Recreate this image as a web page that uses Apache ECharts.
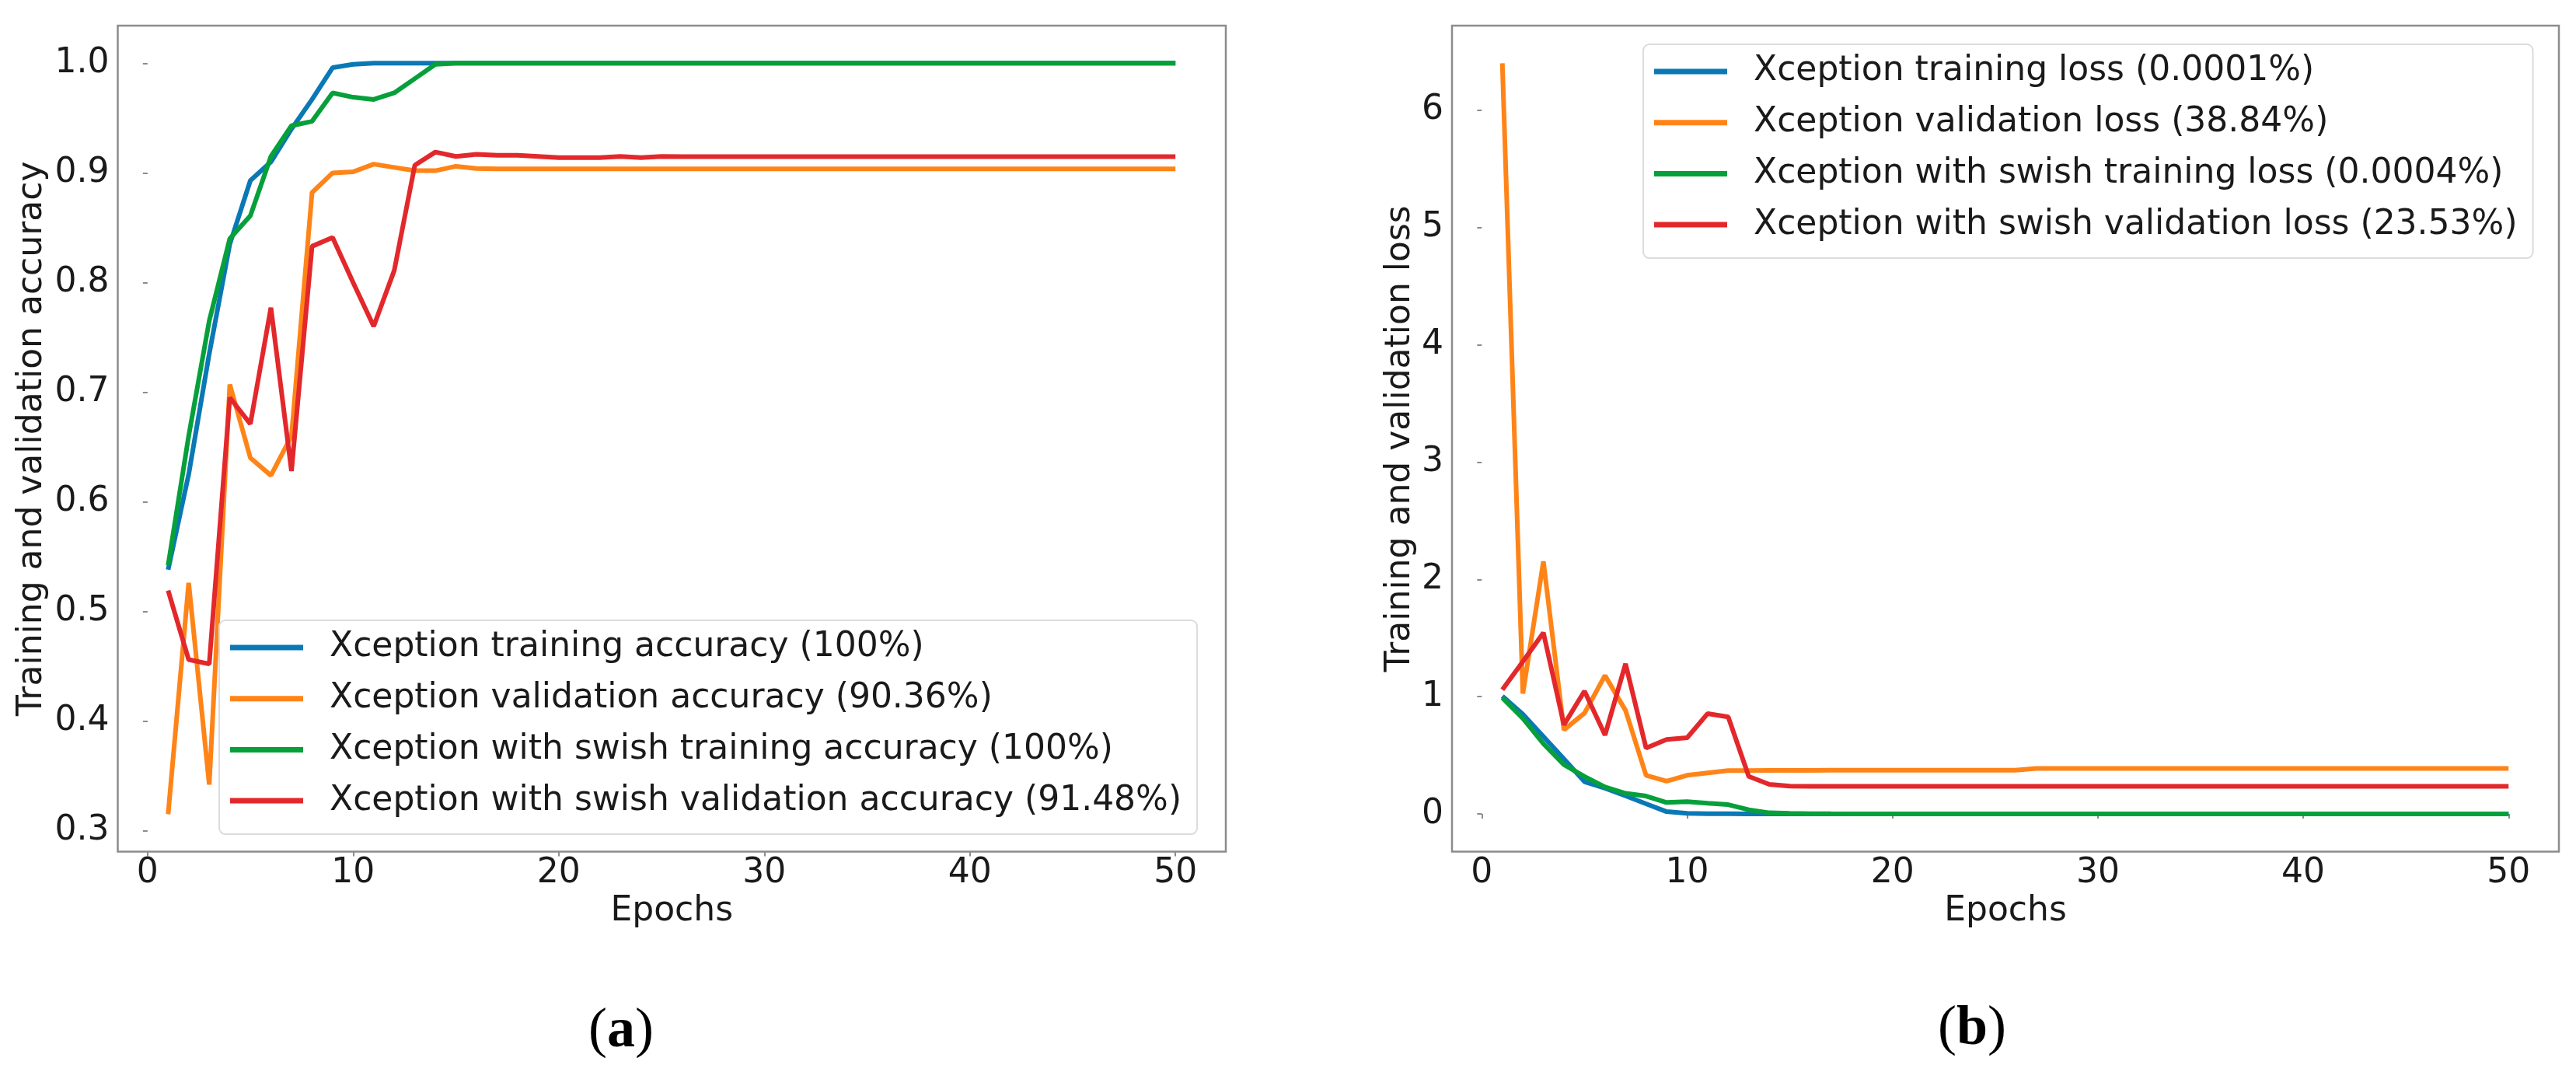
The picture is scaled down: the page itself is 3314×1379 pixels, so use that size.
<!DOCTYPE html>
<html>
<head>
<meta charset="utf-8">
<title>Xception accuracy and loss</title>
<script src="https://cdn.jsdelivr.net/npm/echarts@6/dist/echarts.min.js"></script>
<style>
  html, body { margin: 0; padding: 0; background: #fff; }
  #chart { width: 3314px; height: 1379px; }
</style>
</head>
<body>
<div id="chart"></div>
<script>
const FONT = 'DejaVu Sans';

const epochs = [1, 2, 3, 4, 5, 6, 7, 8, 9, 10, 11, 12, 13, 14, 15, 16, 17, 18, 19, 20,
  21, 22, 23, 24, 25, 26, 27, 28, 29, 30, 31, 32, 33, 34, 35, 36, 37, 38, 39, 40,
  41, 42, 43, 44, 45, 46, 47, 48, 49, 50];

// (a) accuracy
const trainAccX = [0.538, 0.625, 0.735, 0.835, 0.893, 0.910, 0.940, 0.967, 0.996, 0.999,
  1.0, 1.0, 1.0, 1.0, 1.0, 1.0, 1.0, 1.0, 1.0, 1.0, 1.0, 1.0, 1.0, 1.0, 1.0,
  1.0, 1.0, 1.0, 1.0, 1.0, 1.0, 1.0, 1.0, 1.0, 1.0, 1.0, 1.0, 1.0, 1.0, 1.0,
  1.0, 1.0, 1.0, 1.0, 1.0, 1.0, 1.0, 1.0, 1.0, 1.0];
const valAccX = [0.315, 0.526, 0.342, 0.707, 0.640, 0.624, 0.660, 0.882, 0.900, 0.901,
  0.908, 0.905, 0.902, 0.902, 0.906, 0.904, 0.9036, 0.9036, 0.9036, 0.9036,
  0.9036, 0.9036, 0.9036, 0.9036, 0.9036, 0.9036, 0.9036, 0.9036, 0.9036, 0.9036,
  0.9036, 0.9036, 0.9036, 0.9036, 0.9036, 0.9036, 0.9036, 0.9036, 0.9036, 0.9036,
  0.9036, 0.9036, 0.9036, 0.9036, 0.9036, 0.9036, 0.9036, 0.9036, 0.9036, 0.9036];
const trainAccS = [0.542, 0.660, 0.765, 0.840, 0.861, 0.915, 0.943, 0.947, 0.973, 0.969,
  0.967, 0.973, 0.986, 0.999, 1.0, 1.0, 1.0, 1.0, 1.0, 1.0, 1.0, 1.0, 1.0, 1.0, 1.0,
  1.0, 1.0, 1.0, 1.0, 1.0, 1.0, 1.0, 1.0, 1.0, 1.0, 1.0, 1.0, 1.0, 1.0, 1.0,
  1.0, 1.0, 1.0, 1.0, 1.0, 1.0, 1.0, 1.0, 1.0, 1.0];
const valAccS = [0.519, 0.456, 0.452, 0.695, 0.671, 0.777, 0.628, 0.833, 0.841, 0.800,
  0.760, 0.811, 0.907, 0.919, 0.915, 0.917, 0.916, 0.916, 0.915, 0.914,
  0.914, 0.914, 0.915, 0.914, 0.915, 0.9148, 0.9148, 0.9148, 0.9148, 0.9148,
  0.9148, 0.9148, 0.9148, 0.9148, 0.9148, 0.9148, 0.9148, 0.9148, 0.9148, 0.9148,
  0.9148, 0.9148, 0.9148, 0.9148, 0.9148, 0.9148, 0.9148, 0.9148, 0.9148, 0.9148];

// (b) loss
const trainLossX = [1.005, 0.850, 0.660, 0.470, 0.275, 0.220, 0.155, 0.087, 0.020, 0.006,
  0.003, 0.002, 0.001, 0.001, 0.0008, 0.0006, 0.0005, 0.0004, 0.0004, 0.0003,
  0.0003, 0.0003, 0.0002, 0.0002, 0.0002, 0.0002, 0.0002, 0.0002, 0.0001, 0.0001,
  0.0001, 0.0001, 0.0001, 0.0001, 0.0001, 0.0001, 0.0001, 0.0001, 0.0001, 0.0001,
  0.0001, 0.0001, 0.0001, 0.0001, 0.0001, 0.0001, 0.0001, 0.0001, 0.0001, 0.0001];
const valLossX = [6.40, 1.026, 2.153, 0.717, 0.860, 1.180, 0.883, 0.330, 0.280, 0.330,
  0.350, 0.370, 0.370, 0.372, 0.372, 0.372, 0.373, 0.373, 0.373, 0.373,
  0.373, 0.373, 0.373, 0.373, 0.373, 0.373, 0.389, 0.389, 0.389, 0.389,
  0.389, 0.389, 0.389, 0.389, 0.389, 0.389, 0.389, 0.389, 0.389, 0.389,
  0.389, 0.389, 0.389, 0.389, 0.389, 0.389, 0.389, 0.389, 0.389, 0.3884];
const trainLossS = [0.990, 0.815, 0.600, 0.420, 0.320, 0.230, 0.176, 0.153, 0.098, 0.105,
  0.092, 0.080, 0.036, 0.010, 0.005, 0.003, 0.002, 0.0015, 0.001, 0.001,
  0.0009, 0.0008, 0.0008, 0.0007, 0.0007, 0.0006, 0.0006, 0.0006, 0.0005, 0.0005,
  0.0005, 0.0005, 0.0005, 0.0005, 0.0004, 0.0004, 0.0004, 0.0004, 0.0004, 0.0004,
  0.0004, 0.0004, 0.0004, 0.0004, 0.0004, 0.0004, 0.0004, 0.0004, 0.0004, 0.0004];
const valLossS = [1.060, 1.300, 1.545, 0.760, 1.048, 0.673, 1.280, 0.562, 0.635, 0.650,
  0.856, 0.827, 0.320, 0.253, 0.237, 0.2353, 0.2353, 0.2353, 0.2353, 0.2353,
  0.2353, 0.2353, 0.2353, 0.2353, 0.2353, 0.2353, 0.2353, 0.2353, 0.2353, 0.2353,
  0.2353, 0.2353, 0.2353, 0.2353, 0.2353, 0.2353, 0.2353, 0.2353, 0.2353, 0.2353,
  0.2353, 0.2353, 0.2353, 0.2353, 0.2353, 0.2353, 0.2353, 0.2353, 0.2353, 0.2353];

const accNames = [
  'Xception training accuracy (100%)',
  'Xception validation accuracy (90.36%)',
  'Xception with swish training accuracy (100%)',
  'Xception with swish validation accuracy (91.48%)'
];
const lossNames = [
  'Xception training loss (0.0001%)',
  'Xception validation loss (38.84%)',
  'Xception with swish training loss (0.0004%)',
  'Xception with swish validation loss (23.53%)'
];
const lineColors = ['#0a78b5', '#ff8418', '#06a03b', '#e3282c'];

const xTicks = [0, 10, 20, 30, 40, 50];
const accTicks = [0.3, 0.4, 0.5, 0.6, 0.7, 0.8, 0.9, 1.0];
const lossTicks = [0, 1, 2, 3, 4, 5, 6];

const frameColor = '#8c8c8c';
const textColor = '#1a1a1a';

function pairs(values) {
  return epochs.map((e, i) => [e, values[i]]);
}

function xAxis(gridIndex) {
  return {
    type: 'value', gridIndex: gridIndex, min: -1.45, max: 52.45,
    axisLine: { show: false },
    splitLine: { show: false },
    axisTick: { show: true, inside: false, length: 6, customValues: xTicks,
      lineStyle: { color: frameColor, width: 2 } },
    axisLabel: { customValues: xTicks, margin: 6, fontFamily: FONT, fontSize: 44, color: textColor },
    name: 'Epochs', nameLocation: 'middle', nameGap: 54,
    nameTextStyle: { fontFamily: FONT, fontSize: 44, color: textColor }
  };
}

function yAxis(gridIndex, min, max, ticks, digits, name, nameGap) {
  return {
    type: 'value', gridIndex: gridIndex, min: min, max: max,
    axisLine: { show: false },
    splitLine: { show: false },
    axisTick: { show: true, inside: false, length: 6, customValues: ticks,
      lineStyle: { color: frameColor, width: 2 } },
    axisLabel: { customValues: ticks, margin: 11, fontFamily: FONT, fontSize: 44, color: textColor,
      formatter: v => v.toFixed(digits) },
    name: name, nameLocation: 'middle', nameGap: nameGap,
    nameTextStyle: { fontFamily: FONT, fontSize: 44, color: textColor }
  };
}

function lineSeries(name, values, color, axisIndex) {
  return {
    name: name, type: 'line', xAxisIndex: axisIndex, yAxisIndex: axisIndex,
    data: pairs(values), showSymbol: false, symbol: 'none',
    itemStyle: { color: color },
    lineStyle: { color: color, width: 6 },
    emphasis: { disabled: true }
  };
}

function legend(names, left, top) {
  return {
    data: names, orient: 'vertical', left: left, top: top,
    icon: 'rect', itemWidth: 94, itemHeight: 7, itemGap: 21.7,
    padding: [13, 20, 21, 14],
    backgroundColor: 'rgba(255,255,255,0.8)',
    borderColor: '#dcdcdc', borderWidth: 2, borderRadius: 8,
    selectedMode: false,
    textStyle: { fontFamily: FONT, fontSize: 44, lineHeight: 44, color: textColor,
      padding: [0, 0, 0, 29] }
  };
}

function panelLabel(letter, x, y) {
  return {
    type: 'text', x: x, y: y,
    style: {
      text: '{p|(}{b|' + letter + '}{p|)}',
      align: 'center', verticalAlign: 'middle',
      rich: {
        p: { fontFamily: 'Liberation Serif', fontSize: 72, fill: '#000' },
        b: { fontFamily: 'Liberation Serif', fontSize: 72, fontWeight: 'bold', fill: '#000' }
      }
    }
  };
}

const chart = echarts.init(document.getElementById('chart'));
chart.setOption({
  animation: false,
  backgroundColor: '#ffffff',
  grid: [
    { left: 151.5, top: 33, width: 1425.5, height: 1062.6, show: true,
      borderColor: frameColor, borderWidth: 2.5, backgroundColor: 'transparent' },
    { left: 1868, top: 33, width: 1424, height: 1062.4, show: true,
      borderColor: frameColor, borderWidth: 2.5, backgroundColor: 'transparent' }
  ],
  xAxis: [xAxis(0), xAxis(1)],
  yAxis: [
    yAxis(0, 0.2808, 1.0343, accTicks, 1, 'Training and validation accuracy', 88),
    yAxis(1, -0.32, 6.72, lossTicks, 0, 'Training and validation loss', 44)
  ],
  legend: [legend(accNames, 282, 798), legend(lossNames, 2114, 57)],
  series: [
    lineSeries(accNames[0], trainAccX, lineColors[0], 0),
    lineSeries(accNames[1], valAccX, lineColors[1], 0),
    lineSeries(accNames[2], trainAccS, lineColors[2], 0),
    lineSeries(accNames[3], valAccS, lineColors[3], 0),
    lineSeries(lossNames[0], trainLossX, lineColors[0], 1),
    lineSeries(lossNames[1], valLossX, lineColors[1], 1),
    lineSeries(lossNames[2], trainLossS, lineColors[2], 1),
    lineSeries(lossNames[3], valLossS, lineColors[3], 1)
  ],
  graphic: [panelLabel('a', 799, 1327), panelLabel('b', 2537, 1324)]
});
</script>
</body>
</html>
